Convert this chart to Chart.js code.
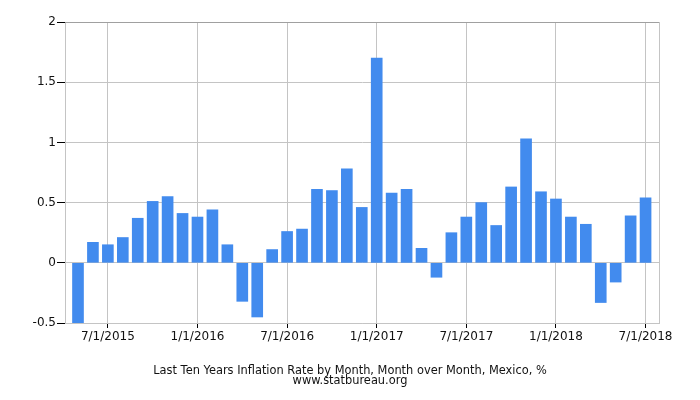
<!DOCTYPE html>
<html>
<head>
<meta charset="utf-8">
<script src="https://cdn.jsdelivr.net/npm/chart.js@4/dist/chart.umd.min.js"></script>
<style>
  html, body { margin: 0; padding: 0; background: #fff; }
  #wrap { width: 700px; height: 400px; }
</style>
</head>
<body>
<div id="wrap"><canvas id="c" width="700" height="400"></canvas></div>
<script>
const months = [
  '5/1/2015','6/1/2015','7/1/2015','8/1/2015','9/1/2015','10/1/2015','11/1/2015','12/1/2015',
  '1/1/2016','2/1/2016','3/1/2016','4/1/2016','5/1/2016','6/1/2016','7/1/2016','8/1/2016',
  '9/1/2016','10/1/2016','11/1/2016','12/1/2016',
  '1/1/2017','2/1/2017','3/1/2017','4/1/2017','5/1/2017','6/1/2017','7/1/2017','8/1/2017',
  '9/1/2017','10/1/2017','11/1/2017','12/1/2017',
  '1/1/2018','2/1/2018','3/1/2018','4/1/2018','5/1/2018','6/1/2018','7/1/2018'
];
const inflation = [
  -0.50, 0.17, 0.15, 0.21, 0.37, 0.51, 0.55, 0.41,
  0.38, 0.44, 0.15, -0.32, -0.45, 0.11, 0.26, 0.28,
  0.61, 0.60, 0.78, 0.46,
  1.70, 0.58, 0.61, 0.12, -0.12, 0.25, 0.38, 0.50,
  0.31, 0.63, 1.03, 0.59,
  0.53, 0.38, 0.32, -0.33, -0.16, 0.39, 0.54
];
const tickLabels = ['7/1/2015','1/1/2016','7/1/2016','1/1/2017','7/1/2017','1/1/2018','7/1/2018'];
const yTicks = [-0.5, 0, 0.5, 1, 1.5, 2];
const titleLines = ['Last Ten Years Inflation Rate by Month, Month over Month, Mexico, %', 'www.statbureau.org'];

const FONT = 'DejaVu Sans';
const GRID = '#c4c4c4';

const frame = {
  id: 'frame',
  afterDraw(chart) {
    const {ctx, chartArea: a} = chart;
    ctx.save();
    ctx.lineWidth = 1;
    ctx.strokeStyle = '#a0a0a0';
    ctx.beginPath();
    ctx.moveTo(a.left, Math.round(a.top) + 0.5);
    ctx.lineTo(a.right, Math.round(a.top) + 0.5);
    ctx.stroke();
    ctx.strokeStyle = GRID;
    ctx.beginPath();
    ctx.moveTo(Math.round(a.right) + 0.5, a.top);
    ctx.lineTo(Math.round(a.right) + 0.5, a.bottom);
    ctx.stroke();
    // caption below the chart, centred on the canvas
    ctx.fillStyle = '#111';
    ctx.font = '11.4px "' + FONT + '"';
    ctx.textAlign = 'center';
    ctx.textBaseline = 'middle';
    titleLines.forEach((t, i) => ctx.fillText(t, chart.width / 2, 371 + i * 10));
    ctx.restore();
  }
};

new Chart(document.getElementById('c'), {
  type: 'bar',
  data: {
    datasets: [{
      data: inflation.map((v, i) => ({x: i, y: v})),
      backgroundColor: '#428BEE',
      borderWidth: 0,
      barThickness: 11
    }]
  },
  options: {
    responsive: false,
    animation: false,
    layout: { padding: { top: 22, right: 41, left: 0, bottom: 0 } },
    plugins: {
      legend: { display: false },
      tooltip: { enabled: false },
      title: { display: false }
    },
    scales: {
      x: {
        type: 'linear',
        offset: false,
        min: -0.87,
        max: 38.9,
        afterBuildTicks(scale) {
          scale.ticks = tickLabels.map(l => ({ value: months.indexOf(l) }));
        },
        afterFit(scale) { scale.height = 77; },
        ticks: {
          autoSkip: false,
          maxRotation: 0,
          padding: 2,
          color: '#111',
          font: { family: FONT, size: 12 },
          callback: (v) => months[v]
        },
        grid: { color: GRID, tickColor: '#000', tickLength: 5, offset: false },
        border: { color: GRID }
      },
      y: {
        min: -0.5,
        max: 2,
        afterBuildTicks(scale) {
          scale.ticks = yTicks.map(v => ({ value: v }));
        },
        afterFit(scale) { scale.width = 65; },
        ticks: {
          padding: 1,
          color: '#111',
          font: { family: FONT, size: 12 },
          callback: (v) => String(v)
        },
        grid: { color: GRID, tickColor: '#000', tickLength: 8 },
        border: { color: GRID }
      }
    }
  },
  plugins: [frame]
});
</script>
</body>
</html>
